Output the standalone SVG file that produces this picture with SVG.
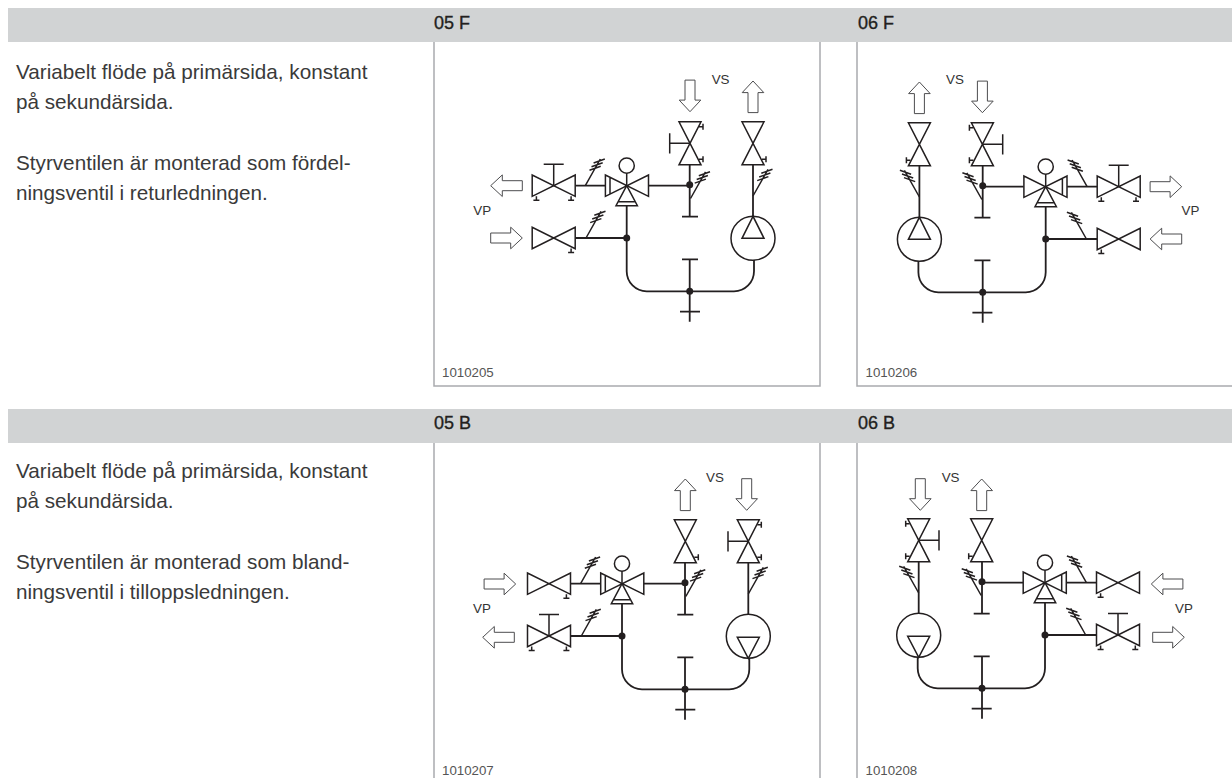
<svg xmlns="http://www.w3.org/2000/svg" width="1232" height="778" viewBox="0 0 1232 778">
<style>
text{font-family:"Liberation Sans",Arial,sans-serif;fill:#333}
.body{font-size:20.7px;fill:#3a3a3a}
.head{font-size:18px;fill:#231f20;stroke:#231f20;stroke-width:.35}
.code{font-size:13.3px;fill:#555}
.lab{font-size:13.400px;fill:#333}
.band{fill:#d1d3d4}
.frame{fill:none;stroke:#a9abae;stroke-width:1.5}
.s{fill:none;stroke:#231f20;stroke-width:1.5}
.p{fill:none;stroke:#231f20;stroke-width:1.8}
.a{fill:#fff;stroke:#4d4d4f;stroke-width:1}
.d{fill:#231f20;stroke:none}
</style>
<defs>
<path id="arrow" class="a" d="M0 0L-11.600 -10.800V-5H-31.600V5H-11.600V10.800Z"/>
<path id="bow" class="s" d="M-21.500 -10.700V10.700L21.500 -10.700V10.700Z"/>
<path id="foot" class="s" d="M0 0V4M-3 4H3"/>
<path id="tick" class="s" d="M0 0L15 -26.700M4.200 -15.400L15.400 -19.400M6.200 -19L17.400 -23M8.300 -22.700L19.500 -26.700"/>
<path id="handleH" class="s" d="M0 0V-21.500M-10 -21.500H10"/>
<g id="valveP"><use href="#bow"/><use href="#foot" x="17.400" y="10.500"/></g>
<g id="valveH"><use href="#bow"/><use href="#handleH"/><use href="#foot" x="-17.300" y="10.500"/><use href="#foot" x="17.400" y="10.500"/></g>
<g id="three">
<path class="s" d="M-21.300 -10.700V10.700L21.800 -10.700V10.700ZM-16.700 -8.400V8.400"/>
<path class="s" d="M0 0L-10.700 20H10.700ZM-8.600 16H8.600M0 0V-12.400"/>
<circle class="s" cx="0" cy="-20" r="7.600"/>
</g>
<g id="pipes">
<path class="p" d="M575.300 185.700H605.300M648.700 185.700H689.700M689.700 164.700V216.700M682 216.700H698"/>
<path class="p" d="M575.300 238H626.700M626.700 205.700V271.300A20 20 0 0 0 646.700 291.300H734A20 20 0 0 0 754 271.300V260"/>
<path class="p" d="M753 164.700V216.700"/>
<path class="p" d="M689.700 259.300V321.700M682 259.300H698M680 311.700H700"/>
<circle class="d" cx="689.700" cy="184.700" r="3.500"/>
<circle class="d" cx="626.700" cy="238" r="3.500"/>
<circle class="d" cx="689.700" cy="291.300" r="3.500"/>
<use href="#tick" x="585.300" y="185.700"/>
<use href="#tick" x="586" y="238"/>
<use href="#tick" x="690.500" y="198.500"/>
<use href="#tick" x="753" y="196"/>
</g>
<g id="vvP"><path class="s" d="M-11 -21.500H11L-11 21.500H11Z"/><use href="#foot" transform="translate(9 15.900) rotate(-90)"/></g>
<g id="vvH"><path class="s" d="M-11 -21.500H11L-11 21.500H11Z"/><path class="s" d="M0 0H-20.300M-20.300 -10.100V10.100"/><use href="#foot" transform="translate(9 -16.600) rotate(-90)"/><use href="#foot" transform="translate(9 15.900) rotate(-90)"/></g>
<g id="pumpF"><circle class="s" cx="753" cy="238.300" r="22"/><path class="s" d="M753 216.300L742 238.300H764Z"/></g>
<g id="pumpB"><circle class="s" cx="753" cy="238.300" r="22"/><path class="s" d="M753 260.300L742 239.300H764Z"/></g>
</defs>

<g id="layout">
<rect class="band" x="8" y="8" width="1224" height="34"/>
<rect class="band" x="8" y="409" width="1224" height="34"/>
<path class="frame" d="M434 42V386H820V42M857 42V386H1232"/>
<path class="frame" d="M434 443V778M820 443V778M857 443V778"/>
</g>

<g id="panel-05F">
<g id="conn-05F"><use href="#pipes"/></g>
<g id="n05F-arrow-out"><use href="#arrow" transform="translate(490.700 185.700) rotate(180)"/></g>
<g id="n05F-arrow-in"><use href="#arrow" transform="translate(522.300 238)"/></g>
<g id="n05F-valve-upper"><use href="#valveH" x="553.700" y="185.700"/></g>
<g id="n05F-valve-lower"><use href="#valveP" x="553.700" y="238"/></g>
<g id="n05F-valve-3way"><use href="#three" x="626.700" y="185.700"/></g>
<g id="n05F-valve-mid"><use href="#vvH" x="690" y="143.300"/></g>
<g id="n05F-valve-right"><use href="#vvP" x="753" y="143.300"/></g>
<g id="n05F-pump"><use href="#pumpF"/></g>
<g id="n05F-arrow-down"><use href="#arrow" transform="translate(690 111.700) rotate(90)"/></g>
<g id="n05F-arrow-up"><use href="#arrow" transform="translate(753 81) rotate(-90)"/></g>
</g>

<g id="panel-06F" transform="translate(1672.400 1) scale(-1 1)">
<g id="conn-06F"><use href="#pipes"/></g>
<g id="n06F-arrow-out"><use href="#arrow" transform="translate(490.700 185.700) rotate(180)"/></g>
<g id="n06F-arrow-in"><use href="#arrow" transform="translate(522.300 238)"/></g>
<g id="n06F-valve-upper"><use href="#valveH" x="553.700" y="185.700"/></g>
<g id="n06F-valve-lower"><use href="#valveP" x="553.700" y="238"/></g>
<g id="n06F-valve-3way"><use href="#three" x="626.700" y="185.700"/></g>
<g id="n06F-valve-mid"><use href="#vvH" x="690" y="143.300"/></g>
<g id="n06F-valve-right"><use href="#vvP" x="753" y="143.300"/></g>
<g id="n06F-pump"><use href="#pumpF"/></g>
<g id="n06F-arrow-down"><use href="#arrow" transform="translate(690 111.700) rotate(90)"/></g>
<g id="n06F-arrow-up"><use href="#arrow" transform="translate(753 81) rotate(-90)"/></g>
</g>

<g id="panel-05B" transform="translate(-4.700 398)">
<g id="conn-05B"><use href="#pipes"/></g>
<g id="n05B-arrow-in"><use href="#arrow" transform="translate(520.400 186)"/></g>
<g id="n05B-arrow-out"><use href="#arrow" transform="translate(487.400 239.300) rotate(180)"/></g>
<g id="n05B-valve-upper"><use href="#valveP" x="553.700" y="185.700"/></g>
<g id="n05B-valve-lower"><use href="#valveH" x="553.700" y="238"/></g>
<g id="n05B-valve-3way"><use href="#three" x="626.700" y="185.700"/></g>
<g id="n05B-valve-mid"><use href="#vvP" x="690" y="143.300"/></g>
<g id="n05B-valve-right"><use href="#vvH" x="753" y="143.300"/></g>
<g id="n05B-pump"><use href="#pumpB"/></g>
<g id="n05B-arrow-up"><use href="#arrow" transform="translate(690 81) rotate(-90)"/></g>
<g id="n05B-arrow-down"><use href="#arrow" transform="translate(751.400 112.300) rotate(90)"/></g>
</g>

<g id="panel-06B" transform="translate(1671.700 397) scale(-1 1)">
<g id="conn-06B"><use href="#pipes"/></g>
<g id="n06B-arrow-in"><use href="#arrow" transform="translate(520.400 187)"/></g>
<g id="n06B-arrow-out"><use href="#arrow" transform="translate(487.400 240.300) rotate(180)"/></g>
<g id="n06B-valve-upper"><use href="#valveP" x="553.700" y="185.700"/></g>
<g id="n06B-valve-lower"><use href="#valveH" x="553.700" y="238"/></g>
<g id="n06B-valve-3way"><use href="#three" x="626.700" y="185.700"/></g>
<g id="n06B-valve-mid"><use href="#vvP" x="690" y="143.300"/></g>
<g id="n06B-valve-right"><use href="#vvH" x="753" y="143.300"/></g>
<g id="n06B-pump"><use href="#pumpB"/></g>
<g id="n06B-arrow-up"><use href="#arrow" transform="translate(690 82) rotate(-90)"/></g>
<g id="n06B-arrow-down"><use href="#arrow" transform="translate(751.400 113.300) rotate(90)"/></g>
</g>

<g id="labels">
<text class="head" x="434" y="29">05 F</text>
<text class="head" x="858" y="29">06 F</text>
<text class="head" x="434" y="429">05 B</text>
<text class="head" x="858" y="429">06 B</text>
<text class="body" x="16" y="79.300">Variabelt flöde på primärsida, konstant</text>
<text class="body" x="16" y="109.300">på sekundärsida.</text>
<text class="body" x="16" y="170">Styrventilen är monterad som fördel-</text>
<text class="body" x="16" y="200">ningsventil i returledningen.</text>
<text class="body" x="16" y="478">Variabelt flöde på primärsida, konstant</text>
<text class="body" x="16" y="508">på sekundärsida.</text>
<text class="body" x="16" y="569">Styrventilen är monterad som bland-</text>
<text class="body" x="16" y="599">ningsventil i tilloppsledningen.</text>
<text class="code" x="442" y="377">1010205</text>
<text class="code" x="865.500" y="377">1010206</text>
<text class="code" x="442" y="775">1010207</text>
<text class="code" x="865.500" y="775">1010208</text>
<text class="lab" x="711.700" y="84">VS</text>
<text class="lab" x="473.300" y="215">VP</text>
<text class="lab" x="946" y="84">VS</text>
<text class="lab" x="1181.500" y="215">VP</text>
<text class="lab" x="706" y="481.700">VS</text>
<text class="lab" x="473" y="613">VP</text>
<text class="lab" x="941.700" y="481.700">VS</text>
<text class="lab" x="1175" y="613">VP</text>
</g>
</svg>
